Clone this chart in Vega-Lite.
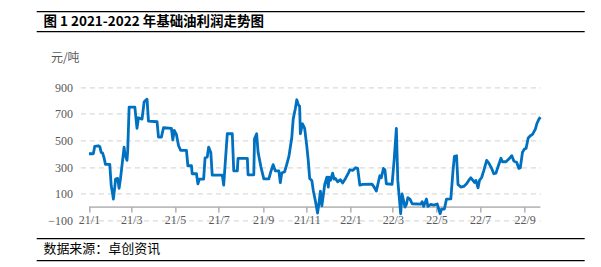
{
  "$schema": "https://vega.github.io/schema/vega-lite/v6.json",
  "background": "white",
  "padding": {"left": 35.4, "top": 10.4, "right": 16, "bottom": 6},
  "bounds": "flush",
  "center": true,
  "spacing": 18,
  "config": {"view": {"stroke": null}},
  "vconcat": [
    {
      "width": 548,
      "height": 20,
      "view": {"stroke": "#000000", "strokeWidth": 1.2, "strokeDash": [548, 20]},
      "data": {"values": [{"t": "图 1 2021-2022 年基础油利润走势图"}]},
      "mark": {"type": "text", "align": "left", "baseline": "middle", "dx": -267, "dy": 1, "font": "Noto Sans CJK SC", "fontWeight": "bold", "fontSize": 13.5, "color": "#000000"},
      "encoding": {"text": {"field": "t", "type": "nominal"}}
    },
    {
      "width": 460,
      "height": 171,
      "view": {"stroke": null},
      "layer": [
        {
          "data": {"values": [{}]},
          "mark": {"type": "rule", "color": "#898989", "strokeWidth": 1},
          "encoding": {
            "x": {"datum": {"year": 2021, "month": 1, "date": 1, "utc": true}, "type": "temporal"},
            "x2": {"datum": {"year": 2022, "month": 9, "date": 23, "utc": true}},
            "y": {"datum": 0, "type": "quantitative"}
          }
        },
        {
          "data": {"values": [
            {"date": "2021-01-01", "profit": 400}, {"date": "2021-01-07", "profit": 400}, {"date": "2021-01-09", "profit": 455}, {"date": "2021-01-14", "profit": 460},
            {"date": "2021-01-16", "profit": 455}, {"date": "2021-01-18", "profit": 410}, {"date": "2021-01-20", "profit": 405}, {"date": "2021-01-22", "profit": 370},
            {"date": "2021-01-24", "profit": 320}, {"date": "2021-01-30", "profit": 320}, {"date": "2021-02-01", "profit": 160}, {"date": "2021-02-03", "profit": 100},
            {"date": "2021-02-04", "profit": 60}, {"date": "2021-02-06", "profit": 150}, {"date": "2021-02-07", "profit": 210}, {"date": "2021-02-10", "profit": 215},
            {"date": "2021-02-12", "profit": 140}, {"date": "2021-02-14", "profit": 215}, {"date": "2021-02-19", "profit": 450}, {"date": "2021-02-20", "profit": 400},
            {"date": "2021-02-23", "profit": 350}, {"date": "2021-02-24", "profit": 420}, {"date": "2021-02-26", "profit": 750}, {"date": "2021-03-06", "profit": 750},
            {"date": "2021-03-09", "profit": 590}, {"date": "2021-03-11", "profit": 670}, {"date": "2021-03-16", "profit": 660}, {"date": "2021-03-19", "profit": 790},
            {"date": "2021-03-23", "profit": 810}, {"date": "2021-03-25", "profit": 645}, {"date": "2021-04-06", "profit": 640}, {"date": "2021-04-08", "profit": 525},
            {"date": "2021-04-12", "profit": 525}, {"date": "2021-04-15", "profit": 595}, {"date": "2021-04-26", "profit": 590}, {"date": "2021-04-28", "profit": 505},
            {"date": "2021-04-30", "profit": 575}, {"date": "2021-05-03", "profit": 545}, {"date": "2021-05-06", "profit": 460}, {"date": "2021-05-09", "profit": 425},
            {"date": "2021-05-17", "profit": 425}, {"date": "2021-05-19", "profit": 310}, {"date": "2021-05-24", "profit": 310}, {"date": "2021-05-25", "profit": 250},
            {"date": "2021-05-31", "profit": 250}, {"date": "2021-06-02", "profit": 175}, {"date": "2021-06-04", "profit": 210}, {"date": "2021-06-10", "profit": 210},
            {"date": "2021-06-12", "profit": 370}, {"date": "2021-06-15", "profit": 375}, {"date": "2021-06-17", "profit": 450}, {"date": "2021-06-20", "profit": 410},
            {"date": "2021-06-22", "profit": 240}, {"date": "2021-07-06", "profit": 240}, {"date": "2021-07-08", "profit": 165}, {"date": "2021-07-13", "profit": 550},
            {"date": "2021-07-20", "profit": 550}, {"date": "2021-07-22", "profit": 272}, {"date": "2021-07-27", "profit": 272}, {"date": "2021-07-28", "profit": 366},
            {"date": "2021-08-10", "profit": 366}, {"date": "2021-08-11", "profit": 242}, {"date": "2021-08-19", "profit": 242}, {"date": "2021-08-20", "profit": 512},
            {"date": "2021-08-23", "profit": 550}, {"date": "2021-08-25", "profit": 411}, {"date": "2021-08-29", "profit": 300}, {"date": "2021-09-02", "profit": 211},
            {"date": "2021-09-09", "profit": 211}, {"date": "2021-09-12", "profit": 270}, {"date": "2021-09-15", "profit": 318}, {"date": "2021-09-18", "profit": 272},
            {"date": "2021-09-23", "profit": 272}, {"date": "2021-09-25", "profit": 183}, {"date": "2021-09-27", "profit": 255}, {"date": "2021-10-01", "profit": 265},
            {"date": "2021-10-04", "profit": 320}, {"date": "2021-10-07", "profit": 380}, {"date": "2021-10-11", "profit": 520}, {"date": "2021-10-13", "profit": 660},
            {"date": "2021-10-16", "profit": 740}, {"date": "2021-10-18", "profit": 805}, {"date": "2021-10-20", "profit": 770}, {"date": "2021-10-22", "profit": 755},
            {"date": "2021-10-23", "profit": 550}, {"date": "2021-10-26", "profit": 625}, {"date": "2021-10-29", "profit": 590}, {"date": "2021-11-01", "profit": 455},
            {"date": "2021-11-03", "profit": 350}, {"date": "2021-11-05", "profit": 215}, {"date": "2021-11-08", "profit": 200}, {"date": "2021-11-10", "profit": 125},
            {"date": "2021-11-13", "profit": 45}, {"date": "2021-11-16", "profit": -45}, {"date": "2021-11-18", "profit": 30}, {"date": "2021-11-20", "profit": 120},
            {"date": "2021-11-22", "profit": 10}, {"date": "2021-11-24", "profit": 90}, {"date": "2021-11-26", "profit": 170}, {"date": "2021-11-29", "profit": 225},
            {"date": "2021-12-01", "profit": 150}, {"date": "2021-12-02", "profit": 225}, {"date": "2021-12-04", "profit": 200}, {"date": "2021-12-07", "profit": 255},
            {"date": "2021-12-09", "profit": 210}, {"date": "2021-12-11", "profit": 215}, {"date": "2021-12-14", "profit": 190}, {"date": "2021-12-18", "profit": 205},
            {"date": "2021-12-21", "profit": 180}, {"date": "2021-12-25", "profit": 215}, {"date": "2021-12-29", "profit": 255}, {"date": "2021-12-31", "profit": 280},
            {"date": "2022-01-04", "profit": 275}, {"date": "2022-01-08", "profit": 295}, {"date": "2022-01-11", "profit": 290}, {"date": "2022-01-14", "profit": 165},
            {"date": "2022-01-18", "profit": 170}, {"date": "2022-01-31", "profit": 172}, {"date": "2022-02-03", "profit": 150}, {"date": "2022-02-06", "profit": 120},
            {"date": "2022-02-09", "profit": 190}, {"date": "2022-02-11", "profit": 236}, {"date": "2022-02-13", "profit": 220}, {"date": "2022-02-16", "profit": 290},
            {"date": "2022-02-18", "profit": 280}, {"date": "2022-02-20", "profit": 175}, {"date": "2022-02-28", "profit": 170}, {"date": "2022-03-03", "profit": 360},
            {"date": "2022-03-06", "profit": 590}, {"date": "2022-03-08", "profit": 200}, {"date": "2022-03-10", "profit": 75}, {"date": "2022-03-12", "profit": -50},
            {"date": "2022-03-14", "profit": 98}, {"date": "2022-03-18", "profit": 0}, {"date": "2022-03-20", "profit": 20}, {"date": "2022-03-22", "profit": 70},
            {"date": "2022-03-25", "profit": 60}, {"date": "2022-03-28", "profit": 25}, {"date": "2022-04-09", "profit": 22}, {"date": "2022-04-11", "profit": 40},
            {"date": "2022-04-13", "profit": 5}, {"date": "2022-04-17", "profit": 60}, {"date": "2022-04-19", "profit": 5}, {"date": "2022-04-23", "profit": 20},
            {"date": "2022-04-27", "profit": 15}, {"date": "2022-05-02", "profit": 23}, {"date": "2022-05-06", "profit": -50}, {"date": "2022-05-08", "profit": -15},
            {"date": "2022-05-12", "profit": -15}, {"date": "2022-05-15", "profit": 60}, {"date": "2022-05-21", "profit": 62}, {"date": "2022-05-24", "profit": 270},
            {"date": "2022-05-26", "profit": 380}, {"date": "2022-05-29", "profit": 385}, {"date": "2022-05-31", "profit": 170}, {"date": "2022-06-04", "profit": 150},
            {"date": "2022-06-08", "profit": 155}, {"date": "2022-06-12", "profit": 175}, {"date": "2022-06-15", "profit": 200}, {"date": "2022-06-18", "profit": 220},
            {"date": "2022-06-20", "profit": 205}, {"date": "2022-06-23", "profit": 185}, {"date": "2022-06-25", "profit": 200}, {"date": "2022-06-28", "profit": 145},
            {"date": "2022-06-30", "profit": 200}, {"date": "2022-07-03", "profit": 222}, {"date": "2022-07-06", "profit": 274}, {"date": "2022-07-10", "profit": 350},
            {"date": "2022-07-13", "profit": 330}, {"date": "2022-07-17", "profit": 290}, {"date": "2022-07-20", "profit": 250}, {"date": "2022-07-23", "profit": 255},
            {"date": "2022-07-26", "profit": 305}, {"date": "2022-07-30", "profit": 366}, {"date": "2022-08-01", "profit": 340}, {"date": "2022-08-06", "profit": 340},
            {"date": "2022-08-10", "profit": 360}, {"date": "2022-08-14", "profit": 386}, {"date": "2022-08-17", "profit": 345}, {"date": "2022-08-21", "profit": 335},
            {"date": "2022-08-24", "profit": 290}, {"date": "2022-08-26", "profit": 295}, {"date": "2022-08-29", "profit": 411}, {"date": "2022-09-01", "profit": 437},
            {"date": "2022-09-03", "profit": 440}, {"date": "2022-09-06", "profit": 518}, {"date": "2022-09-09", "profit": 535}, {"date": "2022-09-12", "profit": 545},
            {"date": "2022-09-16", "profit": 585}, {"date": "2022-09-18", "profit": 625}, {"date": "2022-09-21", "profit": 660}, {"date": "2022-09-23", "profit": 675}
          ]},
          "mark": {"type": "line", "color": "#0070C0", "strokeWidth": 2.8, "strokeJoin": "round", "clip": false},
          "encoding": {
            "x": {
              "field": "date", "type": "temporal",
              "scale": {"type": "utc", "domain": [{"year": 2020, "month": 12, "date": 20, "utc": true}, {"year": 2022, "month": 9, "date": 23, "utc": true}], "nice": false},
              "axis": {
                "title": null, "orient": "bottom", "offset": -13.3, "domain": false, "grid": false,
                "ticks": true, "tickSize": 5, "tickColor": "#898989", "tickWidth": 1, "tickCount": 20,
                "labelFont": "Liberation Serif", "labelFontSize": 12, "labelColor": "#595959", "labelPadding": 2,
                "format": "%y/%-m", "labelFlush": false, "labelOverlap": false,
                "values": [
                  {"year": 2021, "month": 1, "date": 1, "utc": true}, {"year": 2021, "month": 3, "date": 1, "utc": true},
                  {"year": 2021, "month": 5, "date": 1, "utc": true}, {"year": 2021, "month": 7, "date": 1, "utc": true},
                  {"year": 2021, "month": 9, "date": 1, "utc": true}, {"year": 2021, "month": 11, "date": 1, "utc": true},
                  {"year": 2022, "month": 1, "date": 1, "utc": true}, {"year": 2022, "month": 3, "date": 1, "utc": true},
                  {"year": 2022, "month": 5, "date": 1, "utc": true}, {"year": 2022, "month": 7, "date": 1, "utc": true},
                  {"year": 2022, "month": 9, "date": 1, "utc": true}
                ]
              }
            },
            "y": {
              "field": "profit", "type": "quantitative",
              "scale": {"domain": [-100, 1183], "nice": false, "zero": false},
              "axis": {
                "values": [-100, 100, 300, 500, 700, 900], "tickCount": 12,
                "domain": false, "ticks": false, "labelOverlap": false, "labelFlush": false,
                "grid": true, "gridColor": "#D0D0D0", "gridDash": [5, 4], "gridWidth": 1,
                "labelFont": "Liberation Serif", "labelFontSize": 12, "labelColor": "#595959", "labelPadding": 8,
                "title": "元/吨", "titleAngle": 0, "titleAlign": "left", "titleBaseline": "middle",
                "titleX": -30, "titleY": 8, "titleFont": "Noto Sans CJK SC", "titleFontSize": 12,
                "titleFontWeight": "normal", "titleColor": "#595959"
              }
            }
          }
        }
      ]
    },
    {
      "width": 548,
      "height": 22,
      "view": {"stroke": "#000000", "strokeWidth": 1.2, "strokeDash": [548, 22]},
      "data": {"values": [{"t": "数据来源：卓创资讯"}]},
      "mark": {"type": "text", "align": "left", "baseline": "middle", "dx": -267, "font": "Noto Sans CJK SC", "fontSize": 13, "color": "#000000"},
      "encoding": {"text": {"field": "t", "type": "nominal"}}
    }
  ]
}
